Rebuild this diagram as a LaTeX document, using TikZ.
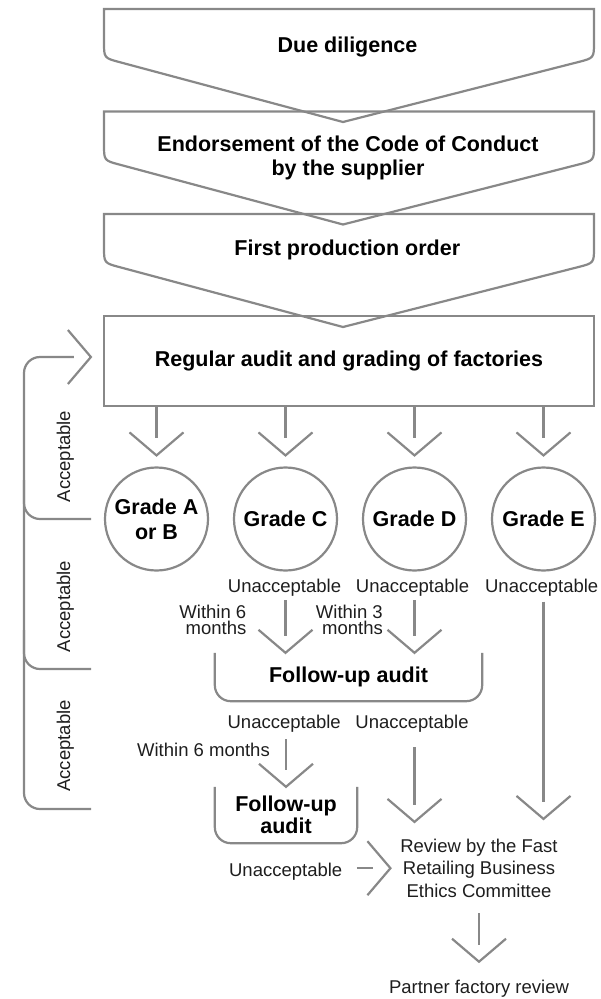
\documentclass[tikz,border=0pt]{standalone}
\usepackage{fontspec}
\setmainfont{Liberation Sans}
\usetikzlibrary{arrows.meta}
\definecolor{lc}{HTML}{888888}
\definecolor{tc}{HTML}{1E1E1E}
\pgfdeclarearrow{
  name = Vhead,
  setup code = {
    \pgfarrowssettipend{0pt}
    \pgfarrowssetlineend{-17pt}
    \pgfarrowssetbackend{-23pt}
  },
  drawing code = {
    \pgfsetmiterjoin
    \pgfpathmoveto{\pgfqpoint{-23pt}{27pt}}
    \pgfpathlineto{\pgfqpoint{0pt}{0pt}}
    \pgfpathlineto{\pgfqpoint{-23pt}{-27pt}}
    \pgfusepathqstroke
  }
}
\newcommand\mychev[1]{%
  \draw[ln] (104,#1) -- (104,#1+33) .. controls (104,#1+49) .. (119.5,#1+53.1)
    -- (343,#1+113) -- (578.5,#1+53) .. controls (594,#1+49) .. (594,#1+33)
    -- (594,#1) -- cycle;}
\begin{document}
\begin{tikzpicture}[x=1pt,y=-1pt,
  ln/.style={draw=lc, line width=2.2pt},
  arr/.style={ln, -{Vhead}},
  bt/.style={font=\fontsize{21.5}{24}\selectfont\bfseries, text=black, inner sep=0pt, align=center},
  rt/.style={font=\fontsize{18.5}{22.3}\selectfont, text=tc, inner sep=0pt, align=center},
  grade/.style={circle, draw=lc, line width=2.2pt, minimum size=103pt, inner sep=0pt,
    align=center, text=black, font=\fontsize{21.5}{25}\selectfont\bfseries},
  tight/.style={font=\fontsize{18.5}{16.7}\selectfont}
]
\useasboundingbox (0,0) rectangle (601,999);

% top chevrons
\mychev{9}
\mychev{111.5}
\mychev{214}
\node[bt, anchor=base] (dd) at (347.5,52.3) {Due diligence};
\node[bt] (endo) at (348,158.1) {Endorsement of the Code of Conduct\\by the supplier};
\node[bt, anchor=base] (fpo) at (347.3,255) {First production order};

% main audit box
\node[bt, draw=lc, line width=2.2pt, minimum width=490pt, minimum height=90pt] (reg) at (349,361)
  {Regular audit and grading of factories};

% grades
\node[grade] (gA) at (156.5,519) {Grade A\\or B};
\node[grade] (gC) at (285.5,519) {Grade C};
\node[grade] (gD) at (414.5,519) {Grade D};
\node[grade] (gE) at (543.5,519) {Grade E};
\foreach \g in {gA,gC,gD,gE}
  \draw[arr, shorten >=11pt] (reg.south -| \g) -- (\g.north);

% first unacceptable row
\node[rt, anchor=base] (u1) at (284.5,592.7) {Unacceptable};
\node[rt, anchor=base] (u2) at (412.5,592.7) {Unacceptable};
\node[rt, anchor=base] (u3) at (541.7,592.7) {Unacceptable};
\node[rt, tight, align=right, anchor=east] (w1) at (246.5,619.9) {Within 6\\months};
\node[rt, tight, align=right, anchor=east] (w2) at (383,619.9) {Within 3\\months};

% follow-up audit 1
\node[bt, minimum width=267pt, minimum height=48pt] (fu1) at (348.5,677) {Follow-up audit};
\draw[ln, rounded corners=16pt] (fu1.north west) |- (fu1.south) -| (fu1.north east);
\draw[arr, shorten <=3.5pt] (u1.south -| gC) -- (fu1.north -| gC);
\draw[arr, shorten <=3.5pt] (u2.south -| gD) -- (fu1.north -| gD);

% second row
\node[rt, anchor=base] (u4) at (284.2,728.3) {Unacceptable};
\node[rt, anchor=base] (u5) at (412,728.3) {Unacceptable};
\node[rt, anchor=base east] (w3) at (270,756) {Within 6 months};

% follow-up audit 2
\node[bt, minimum width=142pt, minimum height=56pt, font=\fontsize{21.5}{21.6}\selectfont\bfseries] (fu2) at (286,815) {Follow-up\\audit};
\draw[ln, rounded corners=16pt] (fu2.north west) |- (fu2.south) -| (fu2.north east);
\draw[arr, shorten <=7pt] (u4.south -| fu2) -- (fu2.north);

% review
\node[rt] (rev) at (479,868.2) {Review by the Fast\\Retailing Business\\Ethics Committee};
\draw[arr, shorten <=15pt, shorten >=17pt] (u5.south -| gD) -- (gD |- rev.north);
\draw[arr, shorten <=5pt, shorten >=20pt] (u3.south -| gE) -- (gE |- rev.north);
\node[rt, anchor=base] (u6) at (285.7,876) {Unacceptable};
\draw[arr, shorten <=14.5pt, shorten >=9.7pt] (u6.east |- rev.west) -- (rev.west);

% partner
\node[rt, anchor=base] (pfr) at (479,993.3) {Partner factory review};
\draw[arr, shorten <=15.5pt, shorten >=18pt] (rev.south) -- (pfr.north);

% acceptable loop
\coordinate (l1) at (91,519);
\coordinate (l2) at (91,669);
\coordinate (l3) at (91,809);
\coordinate (lt) at (24,357);
\draw[arr, rounded corners=16pt, shorten >=12pt] (l3) -| (lt) -- (lt -| reg.west);
\draw[ln, rounded corners=16pt] (24,480) |- (l1);
\draw[ln, rounded corners=16pt] (24,630) |- (l2);
\node[rt, rotate=90, anchor=base] (a1) at (70,456.5) {Acceptable};
\node[rt, rotate=90, anchor=base] (a2) at (70,606.5) {Acceptable};
\node[rt, rotate=90, anchor=base] (a3) at (70,746) {Acceptable};
\end{tikzpicture}
\end{document}
